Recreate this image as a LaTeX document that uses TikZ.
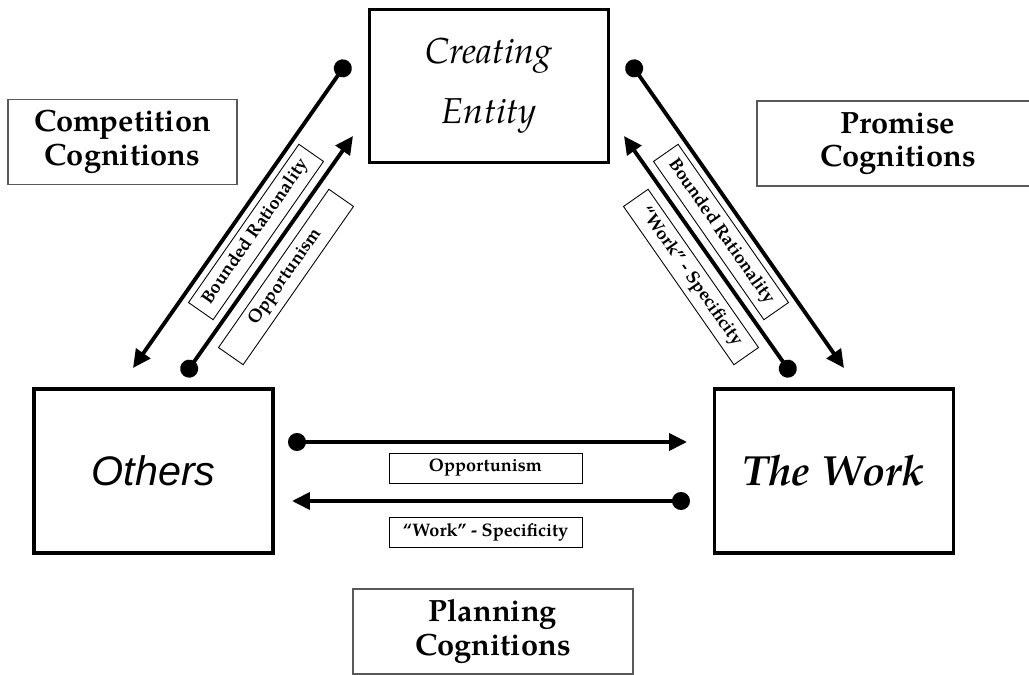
\documentclass[tikz,border=0pt]{standalone}
\usepackage{fontspec}
\setmainfont{TeX Gyre Pagella}
\newfontfamily\othersfont{Liberation Sans}
\usetikzlibrary{arrows.meta}
\tikzset{
    bigbox/.style={draw, line width=2pt, minimum width=4.78cm, minimum height=3.28cm, inner sep=0pt, align=center},
    cogbox/.style={draw=black!65, line width=0.9pt, minimum height=1.7cm, align=center, font=\fontsize{17.5}{19}\selectfont\bfseries},
    tagbox/.style={draw, line width=0.5pt, minimum width=3.86cm, minimum height=0.6cm, inner sep=0pt, font=\fontsize{10.3}{12}\selectfont\bfseries},
    link/.style={line width=2.2pt, {Circle[length=0.36cm]}-{Triangle[length=0.36cm,width=0.34cm]}}
}

\begin{document}
\begin{tikzpicture}[x=0.02cm,y=-0.02cm]
                    \useasboundingbox (0,0) rectangle (1029,675);

                    % the three parties
                    \node[bigbox, minimum height=3.06cm, font=\fontsize{20.5}{24}\selectfont\itshape] (creator) at (489,86) {Creating\\[10pt]Entity};
                    \node[bigbox, font=\fontsize{23.5}{26}\selectfont\othersfont\itshape] (others) at (153.5,471) {Others};
                    \node[bigbox, font=\fontsize{24}{26}\selectfont\bfseries\itshape] (work) at (834,471) {The Work};

                    % cognitions
                    \node[cogbox, minimum width=4.58cm] (competition) at (122.5,142) {Competition\\Cognitions};
                    \node[cogbox, minimum width=5.64cm] (promise) at (898,143.5) {Promise\\Cognitions};
                    \node[cogbox, minimum width=5.6cm] (planning) at (493,631.5) {Planning\\Cognitions};

                    % end points of the links
                    \coordinate (ce-a) at (348,61);   \coordinate (ot-a) at (133,368);
                    \coordinate (ot-b) at (184,376);  \coordinate (ce-b) at (353,136);
                    \coordinate (ce-c) at (629,61);   \coordinate (tw-c) at (844,368);
                    \coordinate (tw-d) at (793,376);  \coordinate (ce-d) at (624,136);
                    \coordinate (ot-e) at (288,442);  \coordinate (tw-e) at (687,442);
                    \coordinate (tw-f) at (690,501);  \coordinate (ot-f) at (292,501);

                    \draw[link] (ce-a) -- (ot-a);
                    \draw[link] (ot-b) -- (ce-b);
                    \draw[link] (ce-c) -- (tw-c);
                    \draw[link] (tw-d) -- (ce-d);
                    \draw[link] (ot-e) -- (tw-e);
                    \draw[link] (tw-f) -- (ot-f);

                    % labels of the links
                    \node[tagbox, rotate=55.1] (bounded-l) at (256,232) {Bounded Rationality};
                    \node[tagbox, rotate=55.1] (opport-l) at (286,277) {Opportunism};
                    \node[tagbox, rotate=-55.1] (bounded-r) at (721,232) {Bounded Rationality};
                    \node[tagbox, rotate=-55.1] (special-r) at (691,277) {“Work” - Specificity};
                    \node[tagbox] (opport-h) at (485.5,468) {Opportunism};
                    \node[tagbox] (special-h) at (485.5,532) {“Work” - Specificity};
                \end{tikzpicture}
\end{document}
